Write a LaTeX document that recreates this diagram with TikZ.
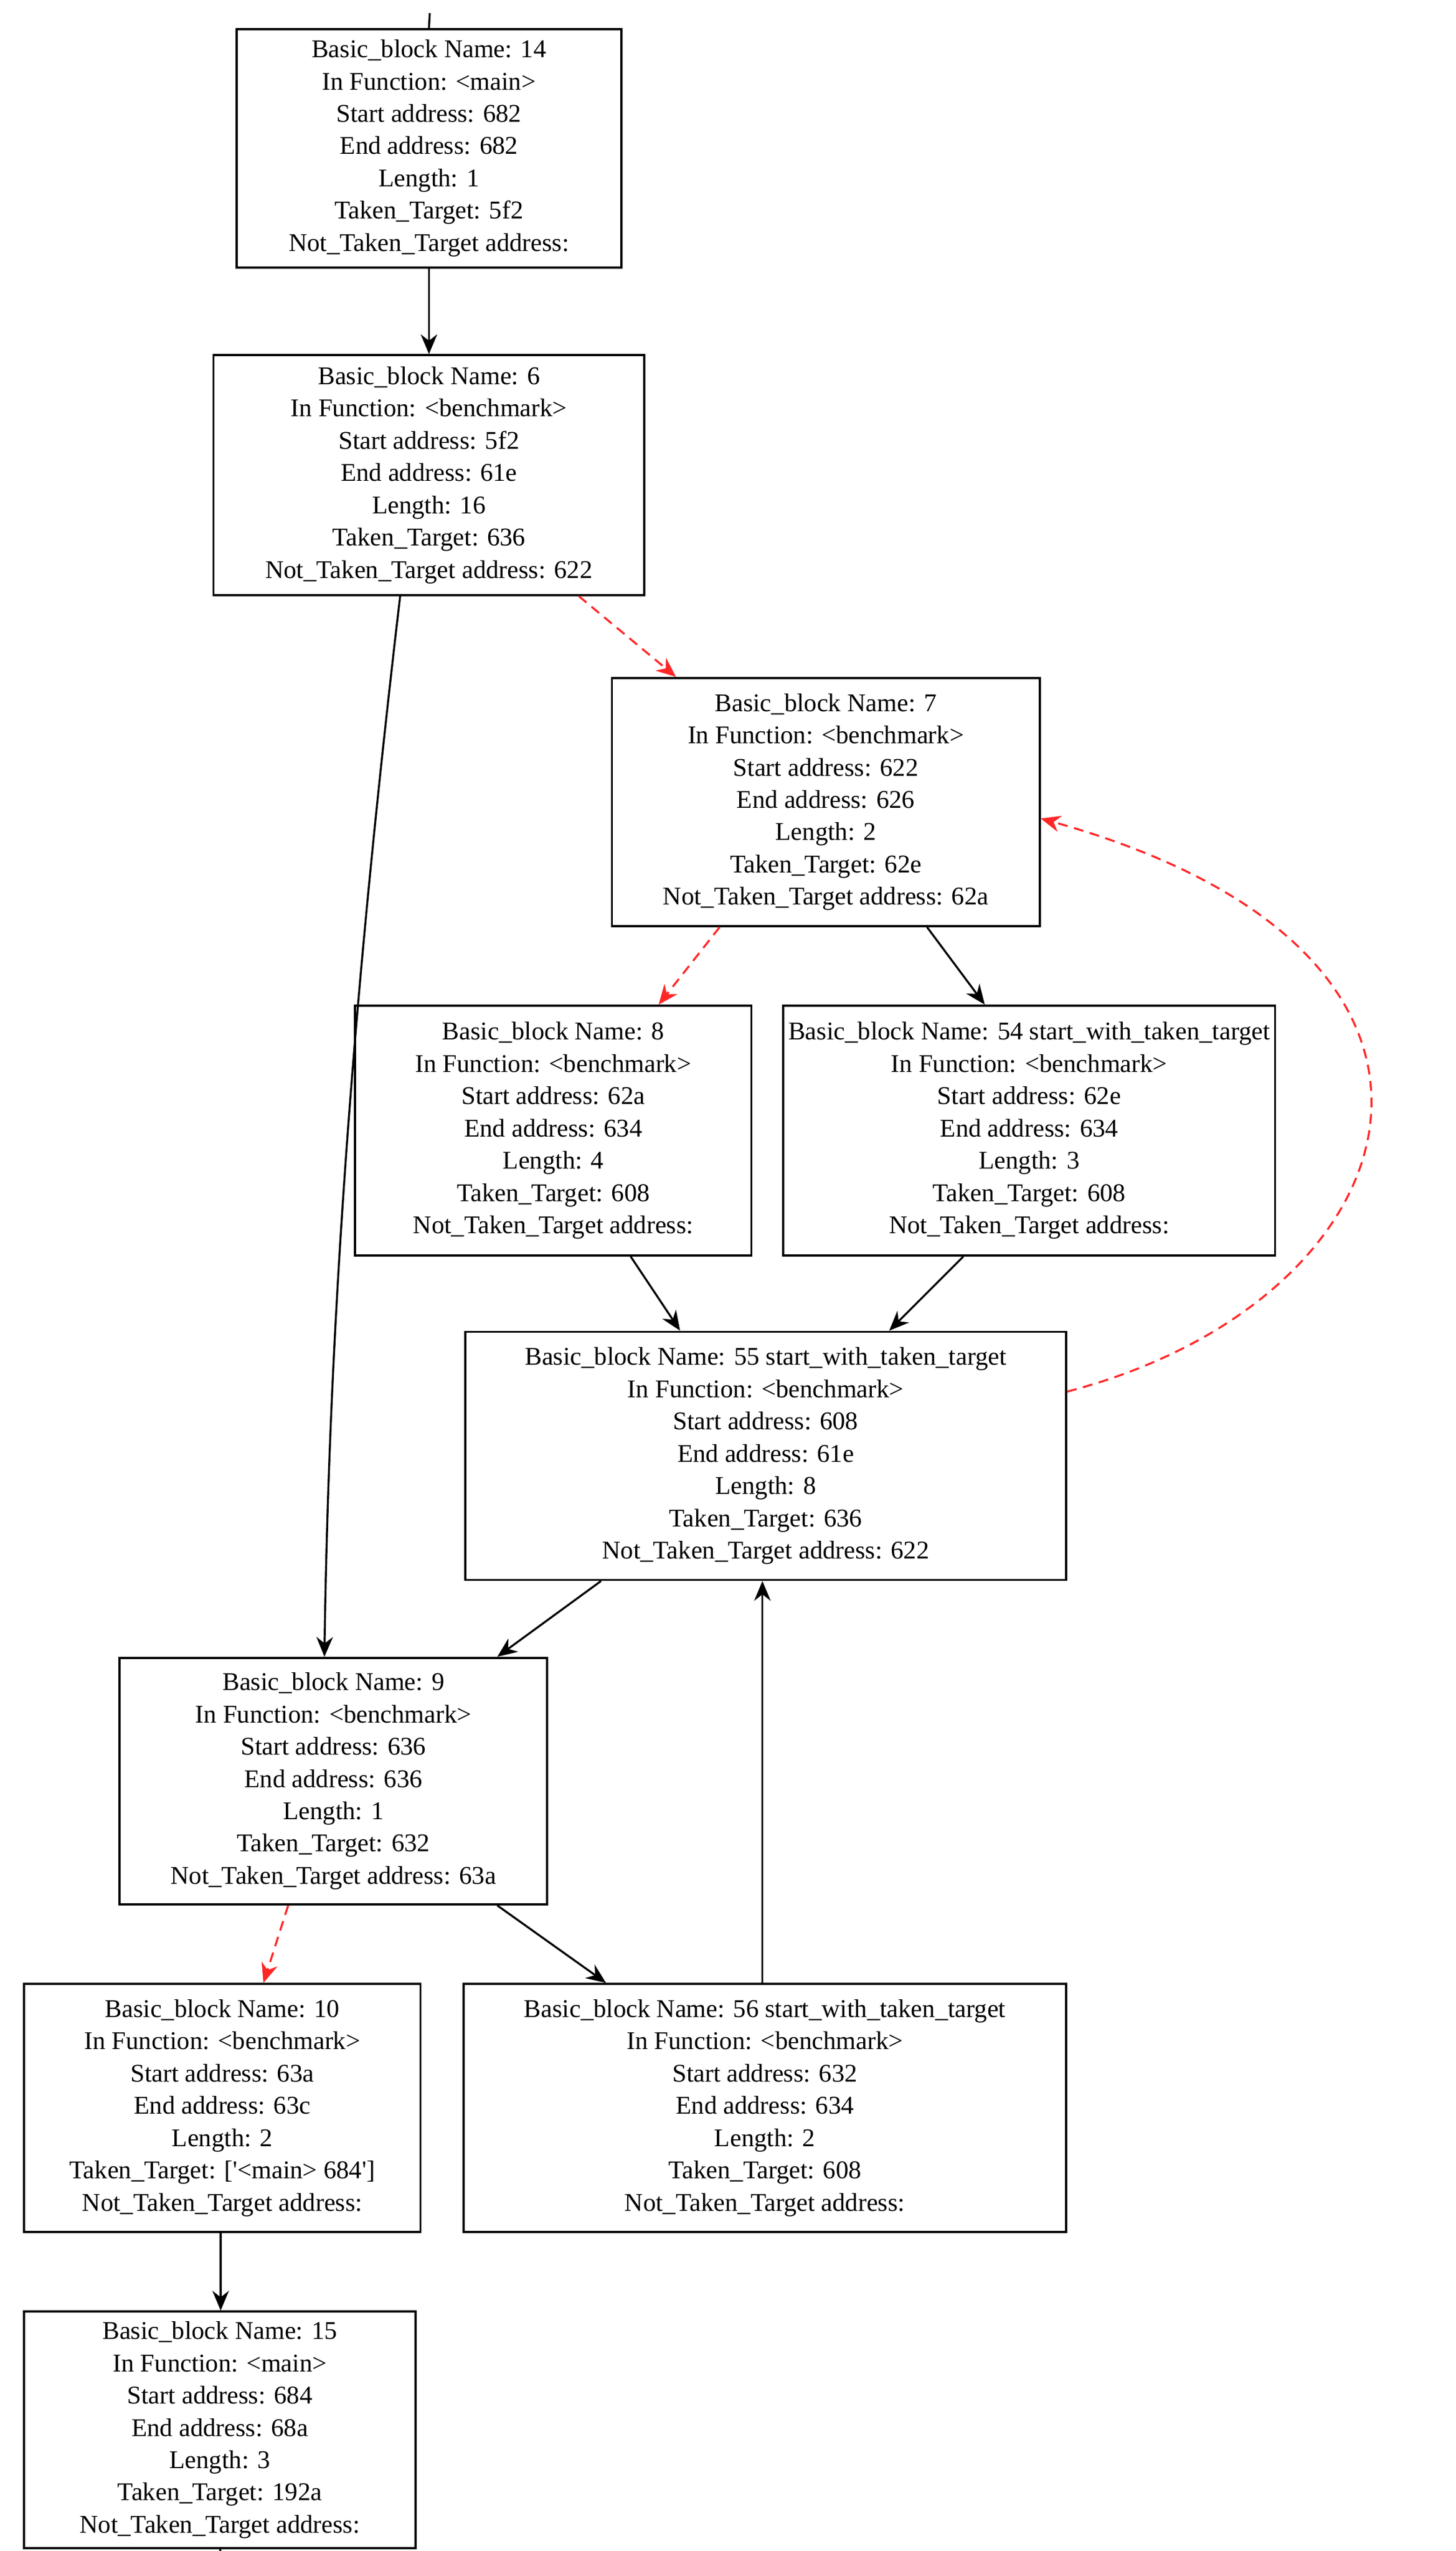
\documentclass[tikz,border=0pt]{standalone}
\usepackage{fontspec}
\setmainfont{Liberation Serif}
\usetikzlibrary{arrows.meta}
\begin{document}
\begin{tikzpicture}[x=1pt,y=-1pt,
  blk/.style={draw,line width=1.3pt,inner sep=0pt,align=center,font=\fontsize{15.5}{19.6}\selectfont},
  e/.style={line width=1.2pt,-{Stealth[length=12pt,width=10pt]}},
  r/.style={e,red!85!white,dash pattern=on 6pt off 4pt}]
\useasboundingbox (0,0) rectangle (884,1549);
\newcommand{\blk}[6]{\node[blk,minimum width={#4-#2-1.3},minimum height={#5-#3-1.3}] (#1) at ({(#2+#4)/2},{(#3+#5)/2}) {#6};}
\blk{n14}{143}{17}{378}{163}{Basic\_block Name: 14\\In Function: <main>\\Start address: 682\\End address: 682\\Length: 1\\Taken\_Target: 5f2\\Not\_Taken\_Target address:}
\blk{n6}{129}{215}{392}{362}{Basic\_block Name: 6\\In Function: <benchmark>\\Start address: 5f2\\End address: 61e\\Length: 16\\Taken\_Target: 636\\Not\_Taken\_Target address: 622}
\blk{n7}{371}{411}{632}{563}{Basic\_block Name: 7\\In Function: <benchmark>\\Start address: 622\\End address: 626\\Length: 2\\Taken\_Target: 62e\\Not\_Taken\_Target address: 62a}
\blk{n8}{215}{610}{457}{763}{Basic\_block Name: 8\\In Function: <benchmark>\\Start address: 62a\\End address: 634\\Length: 4\\Taken\_Target: 608\\Not\_Taken\_Target address:}
\blk{n54}{475}{610}{775}{763}{Basic\_block Name: 54 start\_with\_taken\_target\\In Function: <benchmark>\\Start address: 62e\\End address: 634\\Length: 3\\Taken\_Target: 608\\Not\_Taken\_Target address:}
\blk{n55}{282}{808}{648}{960}{Basic\_block Name: 55 start\_with\_taken\_target\\In Function: <benchmark>\\Start address: 608\\End address: 61e\\Length: 8\\Taken\_Target: 636\\Not\_Taken\_Target address: 622}
\blk{n9}{72}{1006}{333}{1157}{Basic\_block Name: 9\\In Function: <benchmark>\\Start address: 636\\End address: 636\\Length: 1\\Taken\_Target: 632\\Not\_Taken\_Target address: 63a}
\blk{n10}{14}{1204}{256}{1356}{Basic\_block Name: 10\\In Function: <benchmark>\\Start address: 63a\\End address: 63c\\Length: 2\\Taken\_Target: [\textquotesingle<main> 684\textquotesingle]\\Not\_Taken\_Target address:}
\blk{n56}{281}{1204}{648}{1356}{Basic\_block Name: 56 start\_with\_taken\_target\\In Function: <benchmark>\\Start address: 632\\End address: 634\\Length: 2\\Taken\_Target: 608\\Not\_Taken\_Target address:}
\blk{n15}{14}{1403}{253}{1548}{Basic\_block Name: 15\\In Function: <main>\\Start address: 684\\End address: 68a\\Length: 3\\Taken\_Target: 192a\\Not\_Taken\_Target address:}
\coordinate (top) at (261,8);
\coordinate (bot) at (134,1549);
\draw[line width=1.2pt] (top) -- (n14.north);
\draw[line width=1.2pt] (n15.south) -- (bot);
\draw[e] (n14.south) -- (n6.north);
\draw[r] ([xshift=91pt]n6.south) -- ([xshift=-91pt]n7.north);
\draw[e] ([xshift=-17.5pt]n6.south) .. controls (215,600) and (200,800) .. ([xshift=-5.5pt]n9.north);
\draw[r] ([xshift=-64.5pt]n7.south) -- ([xshift=64pt]n8.north);
\draw[e] ([xshift=61.5pt]n7.south) -- ([xshift=-27pt]n54.north);
\draw[e] ([xshift=47pt]n8.south) -- ([xshift=-52pt]n55.north);
\draw[e] ([xshift=-40pt]n54.south) -- ([xshift=75pt]n55.north);
\draw[r] ([yshift=39pt]n55.east) .. controls (860,790) and (930,580) .. ([yshift=-10pt]n7.east);
\draw[e] ([xshift=-100pt]n55.south) -- ([xshift=99.5pt]n9.north);
\draw[r] ([xshift=-27.5pt]n9.south) -- ([xshift=25pt]n10.north);
\draw[e] ([xshift=99.5pt]n9.south) -- ([xshift=-96.5pt]n56.north);
\draw[e] ([xshift=-1.5pt]n56.north) -- ([xshift=-2pt]n55.south);
\draw[e] ([xshift=-1pt]n10.south) -- ([xshift=0.5pt]n15.north);
\end{tikzpicture}
\end{document}
